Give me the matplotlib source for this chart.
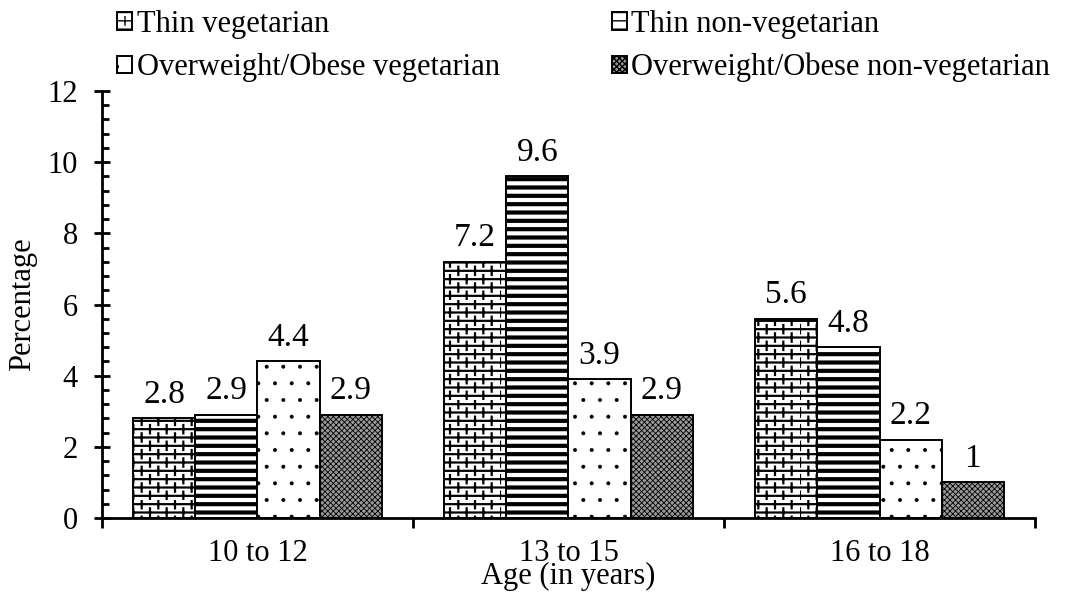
import numpy as np
import matplotlib
matplotlib.use("Agg")
import matplotlib.pyplot as plt
from matplotlib import hatch as mhatch
from matplotlib.path import Path
from matplotlib.ticker import MultipleLocator

# brick pattern for '+': horizontal lines come from HorizontalHatch,
# the staggered vertical joints from this class
class BrickJoints(mhatch.HatchPatternBase):
    def __init__(self, hatch, density):
        n = hatch.count('+')
        self.num_rows = int(n * density)
        self.num_cols = int(n * density) // 2
        self.num_vertices = self.num_rows * self.num_cols * 2

    def set_vertices_and_codes(self, vertices, codes):
        pts = []
        for r in range(self.num_rows):
            y0 = r / self.num_rows
            y1 = (r + 1) / self.num_rows
            off = 0.5 / self.num_cols if r % 2 else 0.0
            for c in range(self.num_cols):
                x = c / self.num_cols + off
                pts += [(x, y0), (x, y1)]
        vertices[:] = pts
        codes[0::2] = Path.MOVETO
        codes[1::2] = Path.LINETO

class VerticalOnly(mhatch.VerticalHatch):
    def __init__(self, hatch, density):
        self.num_lines = int(hatch.count('|') * density)
        self.num_vertices = self.num_lines * 2

mhatch._hatch_types = [VerticalOnly if t is mhatch.VerticalHatch else t
                       for t in mhatch._hatch_types] + [BrickJoints]

plt.rcParams['font.family'] = ['Liberation Serif', 'DejaVu Serif']

groups = ["10 to 12", "13 to 15", "16 to 18"]
series = ["Thin vegetarian", "Thin non-vegetarian",
          "Overweight/Obese vegetarian", "Overweight/Obese non-vegetarian"]
thin_veg = [2.8, 7.2, 5.6]
thin_nonveg = [2.9, 9.6, 4.8]
ow_veg = [4.4, 3.9, 2.2]
ow_nonveg = [2.9, 2.9, 1]
values = [thin_veg, thin_nonveg, ow_veg, ow_nonveg]

hatches = ['++', '--', '.', 'xxxxxx']
faces = ['white', 'white', 'white', '#9a9a9a']
hlw = [1.6, 3.0, 0.4, 0.6]

fig = plt.figure(figsize=(10.71, 5.95), dpi=100)
ax = fig.add_axes([0.0952, 0.1294, 0.8712, 0.7176])

x = np.arange(len(groups))
w = 0.2
handles = []
for j in range(4):
    bars = ax.bar(x + (j - 1.5) * w, values[j], w, color=faces[j],
                  edgecolor='black', linewidth=1.4, hatch=hatches[j],
                  label=series[j])
    for b in bars:
        if hasattr(b, 'set_hatch_linewidth'):
            b.set_hatch_linewidth(hlw[j])
    ax.bar_label(bars, labels=[f"{v:g}" for v in values[j]], padding=6,
                 fontsize=24)
    handles.append(bars)

ax.set_xlim(-0.5, 2.5)
ax.set_ylim(0, 12)
ax.yaxis.set_major_locator(MultipleLocator(2))
ax.yaxis.set_minor_locator(MultipleLocator(0.4))
ax.set_xticks([-0.5, 0.5, 1.5, 2.5])
ax.set_xticklabels([])
ax.set_xticks(x, minor=True)
ax.set_xticklabels(groups, minor=True)
ax.tick_params(axis='x', which='major', direction='out', length=7, width=2)
ax.tick_params(axis='x', which='minor', length=0, labelsize=22, pad=15)
ax.tick_params(axis='y', which='major', direction='inout', length=11,
               width=2, labelsize=22, pad=12)
ax.tick_params(axis='y', which='minor', direction='in', length=5, width=2)
for s in ['top', 'right']:
    ax.spines[s].set_visible(False)
for s in ['left', 'bottom']:
    ax.spines[s].set_linewidth(2)

ax.set_ylabel("Percentage", fontsize=22, labelpad=7)
ax.set_xlabel("Age (in years)", fontsize=22, labelpad=-4)

order = [0, 2, 1, 3]
fig.legend([handles[i] for i in order], [series[i] for i in order],
           loc='upper left', bbox_to_anchor=(0.098, 1.004), ncol=2,
           frameon=False, fontsize=22, handlelength=0.5, handleheight=0.5,
           handletextpad=0.15, columnspacing=3.65, labelspacing=0.45,
           borderaxespad=0)

fig.savefig("out.png", dpi=100)
